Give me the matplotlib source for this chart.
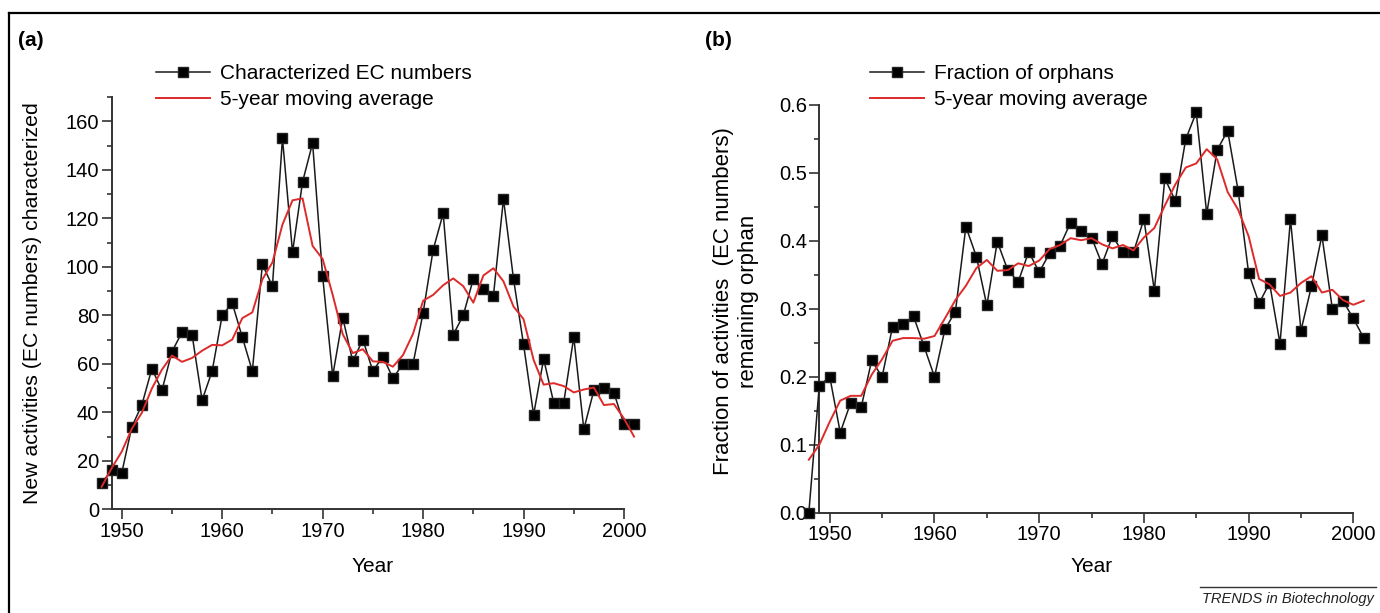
import matplotlib
matplotlib.use('Agg')
import matplotlib.pyplot as plt
from matplotlib.ticker import MultipleLocator
from matplotlib.lines import Line2D

plt.rcParams['font.family'] = ['Liberation Sans', 'DejaVu Sans']

years = list(range(1948, 2002))

# (a) new activities characterized per year
ec_new = [11, 16, 15, 34, 43, 58, 49, 65, 73, 72,
          45, 57, 80, 85, 71, 57, 101, 92, 153, 106,
          135, 151, 96, 55, 79, 61, 70, 57, 63, 54,
          60, 60, 81, 107, 122, 72, 80, 95, 91, 88,
          128, 95, 68, 39, 62, 44, 44, 71, 33, 49,
          50, 48, 35, 35]
ec_avg = [9.3, 17, 23.8, 33.2, 39.8, 49.8, 57.6, 63.4, 60.8, 62.4,
          65.4, 67.8, 67.6, 70, 78.8, 81.2, 94.8, 101.8, 117.4, 127.4,
          128.2, 108.6, 103.2, 88.4, 72.2, 64.4, 66, 61, 60.8, 58.8,
          63.6, 72.4, 86, 88.4, 92.4, 95.2, 92, 85.2, 96.4, 99.4,
          94, 83.6, 78.4, 61.6, 51.4, 52, 50.8, 48.2, 49.4, 50.2,
          43, 43.4, 37.4, 30]

# (b) fraction of orphan activities
orphan = [0.0, 0.187, 0.2, 0.118, 0.162, 0.155, 0.224, 0.2, 0.274, 0.278,
          0.289, 0.245, 0.2, 0.27, 0.296, 0.421, 0.377, 0.305, 0.399, 0.357,
          0.34, 0.384, 0.354, 0.382, 0.393, 0.427, 0.415, 0.405, 0.366, 0.407,
          0.383, 0.383, 0.432, 0.327, 0.492, 0.459, 0.55, 0.589, 0.44, 0.534,
          0.562, 0.474, 0.353, 0.308, 0.338, 0.249, 0.432, 0.268, 0.333, 0.408,
          0.3, 0.312, 0.286, 0.257]
orphan_avg = [0.078, 0.1, 0.134, 0.165, 0.172, 0.172, 0.203, 0.226, 0.253, 0.257,
              0.257, 0.256, 0.26, 0.286, 0.313, 0.334, 0.36, 0.372, 0.356, 0.357,
              0.367, 0.363, 0.371, 0.388, 0.394, 0.404, 0.401, 0.404, 0.395, 0.389,
              0.394, 0.386, 0.405, 0.419, 0.452, 0.483, 0.508, 0.514, 0.535, 0.52,
              0.472, 0.446, 0.407, 0.344, 0.336, 0.319, 0.324, 0.338, 0.348, 0.324,
              0.328, 0.313, 0.306, 0.312]

W, H = 1380, 613
fig = plt.figure(figsize=(W / 100, H / 100), dpi=100)

def fx(px):
    return px / W

def fy(py):
    return 1 - py / H

spine_col = '#333333'
red = '#dd2a2a'


def style_axis(ax, ymax, ymajor, yminor):
    ax.set_xlim(1949, 2000)
    ax.set_ylim(0, ymax)
    for s in ['top', 'right']:
        ax.spines[s].set_visible(False)
    for s in ['left', 'bottom']:
        ax.spines[s].set_color(spine_col)
        ax.spines[s].set_linewidth(1.4)
    ax.xaxis.set_major_locator(MultipleLocator(10))
    ax.xaxis.set_minor_locator(MultipleLocator(5))
    ax.yaxis.set_major_locator(MultipleLocator(ymajor))
    ax.yaxis.set_minor_locator(MultipleLocator(yminor))
    ax.tick_params(which='major', length=7, width=1.2, color=spine_col,
                   labelsize=14.5, pad=2)
    ax.tick_params(which='minor', length=3.5, width=1.2, color=spine_col)
    ax.patch.set_alpha(0)


# panel (a)
ax1 = fig.add_axes([fx(111.7), fy(509.3), fx(624 - 111.7), (509.3 - 97) / H])
style_axis(ax1, 170, 20, 10)
ax1.plot(years, ec_new, '-s', color='#1a1a1a', lw=1.1, ms=7.5,
         mfc='black', mec='#222222', clip_on=False, zorder=3)
ax1.plot(years, ec_avg, '-', color=red, lw=1.4, clip_on=False, zorder=4)
ax1.set_ylabel('New activities (EC numbers) characterized', fontsize=15.3, va='center')
ax1.yaxis.set_label_coords((33 - 111.7) / 512.3, (509.3 - 303) / 412.3)
ax1.set_xlabel('Year', fontsize=15, va='center')
ax1.xaxis.set_label_coords(0.51, (509.3 - 567) / 412.3)

# panel (b)
ax2 = fig.add_axes([fx(819.3), fy(512.7), fx(1353.3 - 819.3), (512.7 - 105) / H])
style_axis(ax2, 0.6, 0.1, 0.05)
ax2.plot(years, orphan, '-s', color='#1a1a1a', lw=1.1, ms=7.5,
         mfc='black', mec='#222222', clip_on=False, zorder=3)
ax2.plot(years, orphan_avg, '-', color=red, lw=1.4, clip_on=False, zorder=4)
ax2.yaxis.set_major_formatter(lambda v, p: f'{v:.1f}')
ax2.set_ylabel('Fraction of activities  (EC numbers)\nremaining orphan',
               fontsize=16, va='center', linespacing=1.22)
ax2.yaxis.set_label_coords((736 - 819.3) / 534, (512.7 - 301.5) / 407.7)
ax2.set_xlabel('Year', fontsize=15, va='center')
ax2.xaxis.set_label_coords(0.51, (512.7 - 567) / 407.7)

# legends
def add_legend(ax, label, x0):
    handles = [Line2D([], [], color='#1a1a1a', lw=1.1, marker='s', ms=7.5,
                      mfc='black', mec='#222222'),
               Line2D([], [], color=red, lw=1.4)]
    ax.legend(handles, [label, '5-year moving average'], loc='upper left',
              bbox_to_anchor=(fx(x0), fy(64)), bbox_transform=fig.transFigure,
              frameon=False, fontsize=15, numpoints=1, handlelength=2.6,
              handletextpad=0.45, borderpad=0, borderaxespad=0, labelspacing=0.35)

add_legend(ax1, 'Characterized EC numbers', 156)
add_legend(ax2, 'Fraction of orphans', 870)

# panel letters
fig.text(fx(18), fy(41), '(a)', fontsize=15, fontweight='bold', va='center', ha='left')
fig.text(fx(705), fy(41), '(b)', fontsize=15, fontweight='bold', va='center', ha='left')

# frame lines (top and left only)
fig.add_artist(Line2D([fx(9), 1], [fy(12.7), fy(12.7)], color='black', lw=1.6,
                      transform=fig.transFigure))
fig.add_artist(Line2D([fx(9), fx(9)], [fy(12.7), 0], color='black', lw=1.6,
                      transform=fig.transFigure))

# journal credit
fig.add_artist(Line2D([fx(1200), fx(1376)], [fy(586.7), fy(586.7)], color='#333333',
                      lw=1.0, transform=fig.transFigure))
fig.text(fx(1374), fy(599), 'TRENDS in Biotechnology', fontsize=10.5, style='italic',
         ha='right', va='center', color='#222222')

fig.savefig('out.png', dpi=100)
